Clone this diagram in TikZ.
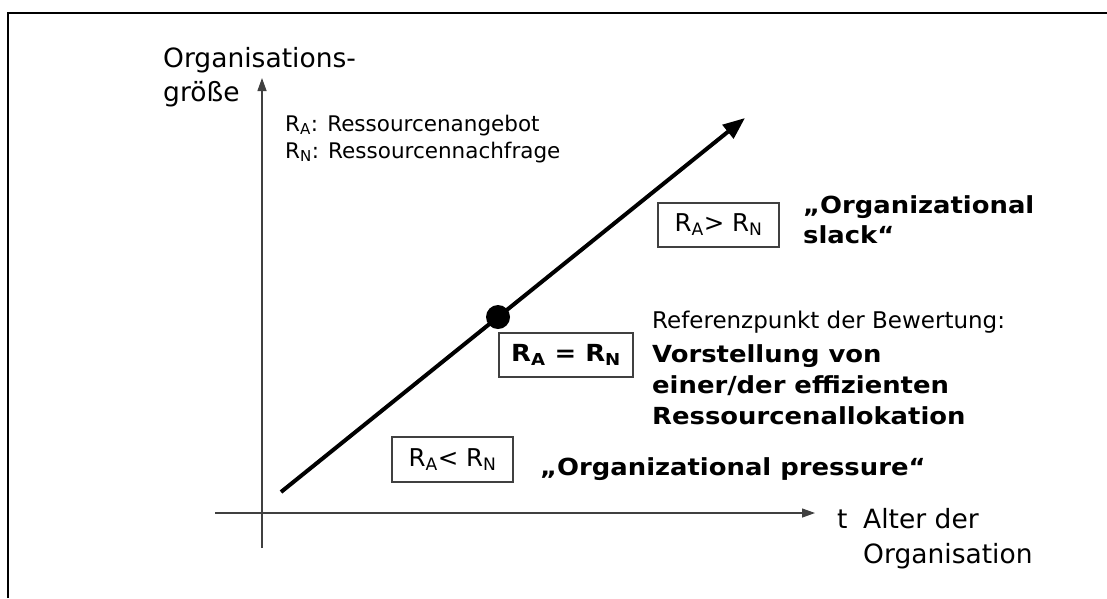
\documentclass[tikz,border=0pt]{standalone}
\usepackage{fontspec}
\setmainfont{DejaVu Sans}[BoldFeatures={FakeStretch=1.1}]
\usetikzlibrary{arrows.meta}

\newcommand{\RA}{R\textsubscript{A}}
\newcommand{\RN}{R\textsubscript{N}}

\begin{document}
\begin{tikzpicture}[x=1pt, y=-1pt,
        lbl/.style={inner sep=0pt, anchor=base west, font=\fontsize{23}{28}\selectfont},
        axlbl/.style={lbl, font=\fontsize{26.5}{32}\selectfont},
        lblsmall/.style={lbl, font=\fontsize{21.5}{26}\selectfont},
        lblbold/.style={lbl, font=\fontsize{23.5}{28}\selectfont\bfseries},
        relbox/.style={draw=black!75, line width=1.2pt, minimum height=44pt, inner sep=0pt, font=\fontsize{24.5}{28}\selectfont},
        axis/.style={draw=black!75, line width=1.3pt, -{Triangle[length=13pt, width=9pt]}},
        trend/.style={line width=4pt, -{Triangle[length=22pt, width=17pt]}}]
    \useasboundingbox (0,0) rectangle (1107,598);
    \draw[line width=2.5pt] (8,598) -- (8,13) -- (1107,13);

    % axes
    \coordinate (yfoot) at (262,548);
    \coordinate (ytip) at (262,78);
    \coordinate (xfoot) at (215,513);
    \coordinate (xtip) at (815,513);
    \draw[axis] (yfoot) -- (ytip);
    \draw[axis] (xfoot) -- (xtip);

    \node[axlbl] (ylab1) at (163,67) {Organisations-};
    \node[axlbl] (ylab2) at (163,101) {größe};
    \node[axlbl] (tlab) at (837,528) {t};
    \node[axlbl] (xlab1) at (863,528) {Alter der};
    \node[axlbl] (xlab2) at (863,563) {Organisation};

    \node[lblsmall] (leg1) at (285,131) {\RA: Ressourcenangebot};
    \node[lblsmall] (leg2) at (285,158) {\RN: Ressourcennachfrage};

    % trend line
    \coordinate (linestart) at (281,492);
    \coordinate (lineend) at (745,118);
    \draw[trend] (linestart) -- (lineend);
    \node[circle, fill=black, minimum size=24pt, inner sep=0pt] (refpt) at (498,317) {};

    % relations
    \node[relbox, minimum width=121pt] (slackbox) at (718.5,225) {\RA> \RN};
    \node[relbox, minimum width=134pt, font=\fontsize{23.5}{28}\selectfont\bfseries] (eqbox) at (566,355) {\RA{} = \RN};
    \node[relbox, minimum width=121pt, minimum height=45pt] (pressbox) at (452.5,459.5) {\RA< \RN};

    \node[lblbold] (slack1) at (803,213) {„Organizational};
    \node[lblbold] (slack2) at (803,243) {slack“};
    \node[lbl] (ref1) at (652,328) {Referenzpunkt der Bewertung:};
    \node[lblbold] (ref2) at (652,362) {Vorstellung von};
    \node[lblbold] (ref3) at (652,393) {einer/der effizienten};
    \node[lblbold] (ref4) at (652,424) {Ressourcenallokation};
    \node[lblbold] (press) at (540,475) {„Organizational pressure“};
\end{tikzpicture}
\end{document}
